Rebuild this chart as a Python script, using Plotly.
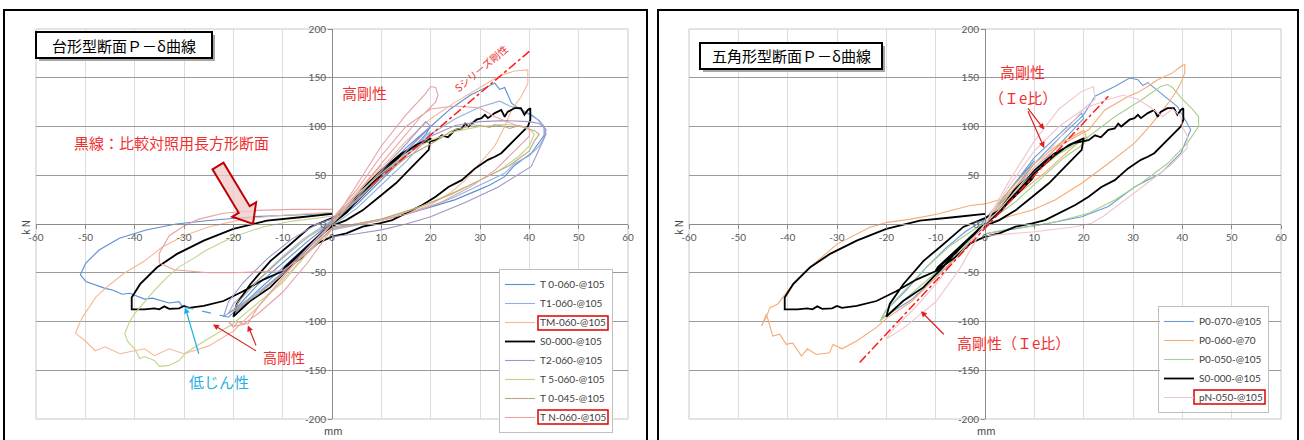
import plotly.graph_objects as go

W, H = 1304, 440

# ---------------- data (mm, kN) ----------------
S0_x = [0, 3, 6, 8, 10, 9.5, 7, 4, 1, 0,
        -3, -6, -8, -10, -9.5, -7, -4, -1, 0,
        3, 6, 10, 14, 17, 20, 19.6, 16.3, 13, 9.6, 6.2, 2.9, 0,
        -4.4, -8.5, -12.5, -16.6, -20, -19.3, -16.6, -12.5, -8.5, -4.4, 0,
        3, 6, 10, 14, 18, 21, 22.3, 23.5, 25, 26.3, 27, 27.6, 29.3, 30.3, 31, 31.6, 33, 34.3, 35, 35.6, 37, 38.3, 39, 39.7, 40.2, 40.2,
        39.7, 38.3, 37, 35.6, 34.3, 33, 31.6, 29, 26.3, 23.6, 21, 18.3, 15, 12.2, 9.6, 6.2, 2.9, 0,
        -3, -6, -9.8, -13.9, -18, -22, -26, -29, -30, -31, -33, -34, -35, -36, -38, -40, -40.6, -40.6, -40.6,
        -38.9, -35.5, -31.5, -26, -20, -13.2, -6.4, 0]
S0_y = [0, 14, 30, 40, 50, 46, 33, 18, 4, 0,
        -14, -30, -38, -48, -44, -32, -18, -4, 0,
        12, 30, 52, 70, 81, 88, 76, 59, 42, 28, 14, 4, -2,
        -20, -44, -65, -79, -95, -82, -62, -38, -21, -3, 6,
        14, 35, 55, 72, 83, 86, 91, 89, 96.6, 98, 103, 100, 107, 108.6, 112, 108.6, 113.7, 117, 110, 115, 118.8, 118.8, 112, 117, 118.8, 106.8,
        100, 93, 86, 79.5, 72.6, 69, 65.8, 57, 45, 38, 28, 19.5, 11, 4, 0.7, -2.7, -9.6, -13,
        -20, -34, -48, -57, -69, -79, -84, -86, -84, -86.5, -87, -84.5, -87.5, -86.5, -87.5, -87, -87.5, -82, -75.5,
        -61.7, -44.6, -30.9, -17, -5, 3.4, 6.9, 10.3]

# left chart (trapezoid sections)
T0_060_x = [0, 5, 10, 8, 4, 0, -5, -10, -8, -4, 0,
            5, 10, 15, 20, 19, 15, 10, 5, 0,
            -5, -10, -15, -20, -19, -15, -10, -5, 0,
            5, 10, 15, 20, 24, 28, 31, 33, 34, 35, 36.4, 38, 40.4, 42, 43, 43, 40.4, 37, 35, 32, 29.7, 25, 20.3, 15, 10, 5, 0,
            -5, -10, -15, -21, None, -30.3, -31, -33, -36.4, -38, -41, -42.5, -44.5, -46, -47.2, -48.5, -49.9, -51,
            -50.5, -49.9, -47.2, -43.1, -37.7, -31.6, -25.5, -16, -7.3, 0]
T0_060_y = [0, 28, 52, 44, 24, 4, -25, -50, -42, -20, 2,
            25, 50, 75, 100, 92, 70, 45, 20, 0,
            -25, -50, -72, -92, -84, -62, -40, -18, 2,
            25, 52, 78, 100, 118, 132, 140, 144.5, 138, 140, 124, 118, 112, 106, 100, 91, 72.6, 60, 48.6, 40, 35, 25, 17.8, 10, 4, 0, -3,
            -22, -45, -68, -95.6, None, -85, -79.7, -81, -76, -77, -71, -72, -67.7, -66, -64, -62, -59, -52,
            -46, -40, -26.7, -14.7, -6.2, 0, 3.4, 7.5, 9.2, 11]

T1_060_x = [0, 5, 10, 15, 20, 19, 15, 10, 5, 0,
            -5, -10, -15, -21, -20, -16, -11, -6, 0,
            5, 10, 15, 20, 25, 30, 34, 36, 38, 40, 41.5, 43, 43.4, 42, 40, 37, 35, 30, 25, 20, 15, 10, 5, 0]
T1_060_y = [0, 24, 48, 72, 95, 86, 64, 40, 16, -2,
            -26, -50, -70, -92, -82, -62, -38, -16, 4,
            24, 48, 72, 92, 108, 120, 126, 121, 118, 112, 108, 100, 92, 80, 70, 62, 52, 40, 28, 18, 10, 4, -1, -6]

TM_060_x = [0, 5, 10, 8, 4, 0,
            5, 10, 15, 20, 25, 30, 34, 37, 39.7, 39.7, 38.4, 36.4, 35, 33, 30, 27, 24, 20, 15, 10, 5, 0,
            -5, -10, -15, -20, -25, -28, -30, -33, -36, -38, -40, -43, -46, -48, -50, -52,
            -51, -50.5, -47.8, -45, -42, -38, -34.4, -30, -25, -18, -10, 0]
TM_060_y = [0, 32, 60, 50, 26, 2,
            30, 58, 85, 108, 125, 140, 152, 157, 158, 144, 131, 117, 100, 80, 62, 45, 32, 20, 10, 4, 0, -4,
            -30, -58, -85, -110, -125, -130, -133, -128, -135, -128, -130, -133, -126, -130, -120, -112,
            -100, -95, -74.5, -62, -50, -38, -23.6, -12, -3, 5, 9, 12]

T2_060_x = [0, 5, 10, 15, 19, 20, 17, 12, 6, 0,
            -5, -10, -15, -20, -22, -21, -18, -13, -8, -3, 0,
            5, 10, 15, 20, 25, 30, 35, 40, 42, 43.4, 43, 40.4, 37, 33.7, 27, 20, 15, 10, 5, 0]
T2_060_y = [0, 28, 55, 82, 105, 100, 85, 58, 28, 2,
            -25, -50, -72, -88, -95, -80, -60, -35, -15, 0, 5,
            25, 48, 70, 90, 101, 105, 106, 105, 103, 97, 88, 59, 48, 38, 22, 7.5, 0, -6, -10, -13]

T5_060_x = [0, 5, 10, 15, 20, 25, 30, 35, 38, 40, 41, 40, 38, 34, 30, 25, 20, 15, 10, 5, 0,
            -5, -10, -16, -20, -25.5, -29.6, -31, -33, -35, -36, -38, -39, -40, -41.5, -42,
            -41, -40, -38, -36, -33.5, -31, -28, -25.5, -20, -14, -8, 0]
T5_060_y = [0, 30, 52, 72, 86, 95, 100, 102, 101, 98, 92, 80, 70, 55, 45, 33, 22, 12, 5, 0, -5,
            -30, -60, -85, -102, -119, -132, -140, -145, -146, -140, -136, -138, -128, -120, -112,
            -100, -92, -80, -68, -55, -44, -35, -27, -13, -3, 3, 8]

T0_045_x = [0, 5, 10, 15, 20, 22, 24, 25, 27, 28, 30, 32, 33, 35, 36, 38, 40, 41, 42, 41, 40, 36, 30, 24, 18, 10, 0,
            -5, -10, -15, -20, -19, -15, -10, -5, 0]
T0_045_y = [0, 25, 48, 68, 82, 88, 95, 97, 99, 102, 101, 99, 102, 100, 98, 101, 97, 96, 92, 85, 75, 60, 45, 30, 18, 5, -5,
            -28, -52, -72, -90, -80, -58, -35, -14, 2]

TN_060_x = [0, 5, 10, 15, 18, 19, 20, 21, 21.5, 21, 18, 15, 10, 5, 0,
            5, 10, 15, 20, 25, 30, 33, 36, 38, 40, 40, 37, 33, 28, 22, 15, 8, 0,
            -5, -10, -15, -18, -19, -20, -21, -20, -17, -15, -10, -5, 0,
            -5, -10, -15, -20, -25, -28, -32, -35, -35, -33, -30, -27, -22, -15, -8, 0]
TN_060_y = [0, 40, 80, 112, 128, 134, 141, 140, 132, 125, 110, 92, 62, 30, 5,
            35, 70, 100, 118, 121, 119, 110, 104, 100, 98, 90, 75, 55, 38, 22, 10, 2, -5,
            -40, -70, -92, -103, -100, -106, -100, -105, -102, -85, -55, -25, 0,
            -30, -48, -49, -50, -50, -49, -47, -40, -30, -12, -2, 5, 11, 14, 15, 15]

# right chart (pentagon sections)
P0_070_x = [0, 5, 10, 9, 5, 0, -5, -10, -9, -5, 0,
            5, 10, 15, 19.6, 20, 17, 12, 6, 0,
            -5, -10, -15, -21, -20, -16, -12, -8, -4, 0,
            5, 10, 15, 20, 22.3, 24, 26.3, 28, 29.3, 31, 32, 33, 35.6, 37, 39, 41, 41.7, 39.7, 35.6, 30.3, 25, 19.6, 13, 6, 0]
P0_070_y = [0, 35, 65, 58, 35, 5, -30, -55, -48, -25, 0,
            35, 68, 92, 113.7, 108, 92, 65, 32, 0,
            -30, -55, -78, -97, -88, -68, -45, -25, -8, 5,
            30, 62, 88, 112, 131, 135, 141, 146, 149.7, 148, 142, 145, 134, 128, 120.5, 103, 96.6, 72.6, 52, 38, 18, 7.5, 0.7, -5, -10]

P0_060_x = [0, 5, 10, 15, 20, 20.5, 17, 12, 6, 0,
            5, 10, 15, 21, 24.3, 27, 29, 31, 33, 35, 37, 38, 39.7, 40.5, 40.5, 39.7, 38, 35.6, 33, 30.3, 25, 19.6, 14.2, 9.6, 5, 0,
            -5, -10, -15, -19.8, -22, -26, -29, -30.8, -31.5, -34.2, -36, -37.2, -39, -40.3, -41.6, -43, -44.3, -45.3,
            -44.3, -43.6, -42, -40, -35.5, -30, -23.3, -19.8, -15, -9.8, -3, 0, 3, 5]
P0_060_y = [0, 35, 62, 82, 96, 90, 75, 52, 28, 5,
            32, 58, 80, 96.6, 117, 125, 130.8, 135, 141, 148, 153, 155, 161.6, 164, 155, 144.5, 130, 113.7, 98, 83, 62, 41.8, 24.7, 14.4, 8, 0,
            -30, -55, -80, -96, -106, -120, -128, -123.5, -132, -133.8, -128, -135.5, -122, -123.5, -113, -115, -92.6, -104.6,
            -95, -85.8, -82, -68.6, -44.6, -20.6, -3.4, 1.7, 5, 10, 19, 20.6, 25, 28]

P0_050_x = [0, 5, 10, 15, 21, 20, 16, 11, 6, 0,
            -5, -10, -15, -21.3, -20, -16, -12, -7, 0,
            5, 10, 15, 21, 26.3, 31.6, 35.6, 37, 38, 40, 42, 43.3, 43.3, 41, 37, 31.6, 26.3, 21, 15, 10, 5, 0]
P0_050_y = [0, 30, 55, 75, 89.7, 82, 68, 45, 22, 0,
            -28, -50, -72, -99.5, -88, -66, -45, -22, 2,
            28, 52, 72, 89.7, 110, 127, 141, 143, 140, 128, 118, 110, 100, 83, 62, 41.8, 24.7, 11, 3, -2, -5, -10]

pN_050_x = [0, 5, 10, 15, 19.6, 22, 22.3, 20, 17, 13, 8, 3, 0,
            -5, -10, -13, -16, -20, -19, -17, -14, -10, -5, 0,
            5, 10, 15, 20, 25, 28, 31, 34, 36, 38, 39.7, 40, 41, 41, 38, 35, 31, 27, 24, 21.6, 18, 10, 0]
pN_050_y = [0, 45, 85, 118, 136, 141, 128, 118, 100, 75, 45, 15, 0,
            -45, -80, -92, -105, -118, -110, -100, -85, -62, -30, 0,
            40, 75, 100, 118, 128, 132, 128, 118, 110, 118, 110, 100, 90, 78, 62, 50, 35, 20, 8, 0.7, -3, -8, -12]

left_names = ["T 0-060-@105", "T1-060-@105", "TM-060-@105", "S0-000-@105",
              "T2-060-@105", "T 5-060-@105", "T 0-045-@105", "T N-060-@105"]
left_x = [T0_060_x, T1_060_x, TM_060_x, S0_x, T2_060_x, T5_060_x, T0_045_x, TN_060_x]
left_y = [T0_060_y, T1_060_y, TM_060_y, S0_y, T2_060_y, T5_060_y, T0_045_y, TN_060_y]
left_colors = ["#5b8fd0", "#8fb2e0", "#f7b896", "#000000", "#a393cc", "#c2d38a", "#bba77e", "#e7a2a4"]

right_names = ["P0-070-@105", "P0-060-@70", "P0-050-@105", "S0-000-@105", "pN-050-@105"]
right_x = [P0_070_x, P0_060_x, P0_050_x, S0_x, pN_050_x]
right_y = [P0_070_y, P0_060_y, P0_050_y, S0_y, pN_050_y]
right_colors = ["#6a9bd6", "#f5ab72", "#a7d08a", "#000000", "#f1c6cc"]

x_ticks = [-60, -50, -40, -30, -20, -10, 0, 10, 20, 30, 40, 50, 60]
y_ticks = [-200, -150, -100, -50, 0, 50, 100, 150, 200]

# ---------------- figure ----------------
def PX(x):
    return x / W


def PY(y):
    return 1 - y / H


fig = go.Figure()

for i, (n, xs, ys, c) in enumerate(zip(left_names, left_x, left_y, left_colors)):
    fig.add_trace(go.Scatter(x=xs, y=ys, name=n, mode="lines", xaxis="x", yaxis="y",
                             line=dict(color=c, width=1.8 if c == "#000000" else 1.1),
                             legend="legend", legendrank=i + 1))
for i, (n, xs, ys, c) in enumerate(zip(right_names, right_x, right_y, right_colors)):
    fig.add_trace(go.Scatter(x=xs, y=ys, name=n, mode="lines", xaxis="x2", yaxis="y2",
                             line=dict(color=c, width=1.8 if c == "#000000" else 1.1),
                             legend="legend2", legendrank=i + 1))

xdom1 = [PX(36), PX(628)]
xdom2 = [PX(689), PX(1281)]
ydom = [PY(419), PY(29)]
ymid = (ydom[0] + ydom[1]) / 2

tickfont = dict(family="Lato, Liberation Sans, sans-serif", size=10, color="#595959")
xcommon = dict(range=[-60, 60], tickvals=x_ticks, ticktext=[str(v) for v in x_ticks],
               showgrid=True, gridcolor="#dcdcdc", gridwidth=1, zeroline=False,
               showline=True, linecolor="#8c8c8c", linewidth=1, ticks="outside", ticklen=4,
               tickcolor="#8c8c8c", tickfont=tickfont, anchor="free", position=ymid, fixedrange=True)
ycommon = dict(range=[-200, 200], tickvals=y_ticks, ticktext=[str(v) for v in y_ticks],
               showgrid=True, gridcolor="#9a9a9a", gridwidth=1.3, zeroline=False,
               showline=True, linecolor="#8c8c8c", linewidth=1, ticks="outside", ticklen=4,
               tickcolor="#8c8c8c", tickfont=tickfont, domain=ydom, anchor="free", fixedrange=True)

legfont = dict(family="Lato, Liberation Sans, sans-serif", size=10, color="#404040")
fig.update_layout(
    width=W, height=H,
    margin=dict(l=0, r=0, t=0, b=0, pad=0, autoexpand=False),
    paper_bgcolor="white", plot_bgcolor="white",
    xaxis=dict(domain=xdom1, **xcommon),
    yaxis=dict(position=(xdom1[0] + xdom1[1]) / 2, **ycommon),
    xaxis2=dict(domain=xdom2, **xcommon),
    yaxis2=dict(position=(xdom2[0] + xdom2[1]) / 2, **ycommon),
    legend=dict(x=PX(613), y=PY(269), xanchor="right", yanchor="top", bgcolor="rgba(0,0,0,0)",
                bordercolor="#bfbfbf", borderwidth=1, itemwidth=30, font=legfont, tracegroupgap=0),
    legend2=dict(x=PX(1269), y=PY(306), xanchor="right", yanchor="top", bgcolor="rgba(0,0,0,0)",
                 bordercolor="#bfbfbf", borderwidth=1, itemwidth=30, font=legfont, tracegroupgap=0),
    showlegend=True,
)

shapes = []
for xr, yr in (("x domain", "y domain"), ("x2 domain", "y2 domain")):
    shapes.append(dict(type="rect", xref=xr, yref=yr, x0=0, x1=1, y0=0, y1=1,
                       line=dict(color="#c8c8c8", width=1), layer="below"))
shapes.append(dict(type="rect", xref="paper", yref="paper", x0=PX(4), x1=PX(647), y0=-0.05, y1=PY(10),
                   line=dict(color="black", width=2)))
shapes.append(dict(type="rect", xref="paper", yref="paper", x0=PX(658), x1=PX(1298), y0=-0.05, y1=PY(10),
                   line=dict(color="black", width=2)))
for (x0, y0, x1, y1) in ((36, 32, 212, 58), (700, 43, 882, 69)):
    shapes.append(dict(type="rect", xref="paper", yref="paper", x0=PX(x0 + 3), x1=PX(x1 + 3),
                       y0=PY(y1 + 3), y1=PY(y0 + 3), line=dict(width=0), fillcolor="#a6a6a6"))
    shapes.append(dict(type="rect", xref="paper", yref="paper", x0=PX(x0), x1=PX(x1),
                       y0=PY(y1), y1=PY(y0), line=dict(color="black", width=2), fillcolor="white"))
shapes.append(dict(type="line", xref="x", yref="y", x0=8, y0=40, x1=40, y1=177,
                   line=dict(color="#ff1a1a", width=1.5, dash="dashdot")))
shapes.append(dict(type="line", xref="x2", yref="y2", x0=-25.4, y0=-142, x1=25, y1=131,
                   line=dict(color="#ff1a1a", width=1.5, dash="dashdot")))
shapes.append(dict(type="line", xref="x", yref="y", x0=-21, y0=-95.6, x1=-30, y1=-85,
                   line=dict(color="#4aa3df", width=1.2, dash="dash")))
arrow_px = [(212.5, 169.3), (223.5, 162.7), (249.7, 206.2), (256.1, 202.3), (253, 224), (232.3, 216.7), (238.7, 212.8)]
path = "M " + " L ".join(f"{PX(a):.5f},{PY(b):.5f}" for a, b in arrow_px) + " Z"
shapes.append(dict(type="path", xref="paper", yref="paper", path=path,
                   fillcolor="rgba(240,200,200,0.75)", line=dict(color="#c00000", width=2)))
# white backgrounds under the (transparent) legends
for (x0, y0, x1, y1) in ((500, 269, 613, 432), (1160, 306, 1269, 410)):
    shapes.append(dict(type="rect", xref="paper", yref="paper", x0=PX(x0), x1=PX(x1), y0=PY(y1), y1=PY(y0),
                       line=dict(width=0), fillcolor="white"))
# red highlight boxes around legend entries
for (x0, y0, x1, y1) in ((538, 316, 608, 330), (538, 410, 608, 424), (1194, 390, 1265, 404)):
    shapes.append(dict(type="rect", xref="paper", yref="paper", x0=PX(x0), x1=PX(x1), y0=PY(y1), y1=PY(y0),
                       line=dict(color="#e00000", width=1.5)))
fig.update_layout(shapes=shapes)

jp = "Noto Sans CJK JP"
red = "#f03030"
ann = []


def txt(x, y, t, size=15, color=red, **kw):
    d = dict(xref="paper", yref="paper", x=PX(x), y=PY(y), text=t, showarrow=False,
             xanchor="center", yanchor="middle", font=dict(family=jp, size=size, color=color))
    d.update(kw)
    ann.append(d)


txt(124, 45, "台形型断面Ｐ－δ曲線", color="black")
txt(791, 56, "五角形型断面Ｐ－δ曲線", color="black")
txt(172, 143, "黒線：比較対照用長方形断面")
txt(364, 92, "高剛性")
txt(284, 357, "高剛性", size=14)
txt(219, 381, "低じん性", color="#1fb0e6")
txt(1022, 72, "高剛性")
txt(1023, 97, "（Ｉe比）")
txt(955, 342, "高剛性（Ｉe比）", xanchor="left")
ann.append(dict(xref="x", yref="y", x=30, y=160, text="Sシリーズ剛性", showarrow=False, textangle=-40,
                xanchor="center", yanchor="middle", font=dict(family=jp, size=10, color=red)))


def arr(xr, yr, hx, hy, tx, ty, color="#e02020"):
    ann.append(dict(xref=xr, yref=yr, axref=xr, ayref=yr, x=hx, y=hy, ax=tx, ay=ty, text=" ",
                    showarrow=True, arrowhead=2, arrowsize=1, arrowwidth=1.2, arrowcolor=color))


arr("x", "y", -24.15, -103, -14.8, -132)
arr("x", "y", -17.06, -104, -14.8, -132)
arr("x", "y", -29.76, -85.6, -26.4, -143.3, color="#1fb0e6")
arr("x2", "y2", 12.0, 96.9, 8.1, 122.7)
arr("x2", "y2", 12.0, 78, 8.1, 122.7)
arr("x2", "y2", -13.0, -89.4, -7.75, -116.2)

for cx in (25, 678):
    txt(cx, 228, "k N", size=10, color="#404040", textangle=-90)
for cx in (333, 986):
    txt(cx, 430, "mm", size=10, color="#404040")
fig.update_layout(annotations=ann)

fig.write_html("out.html", config={"displayModeBar": False},
               post_script="document.body.style.margin='0';document.body.style.overflow='hidden';")
